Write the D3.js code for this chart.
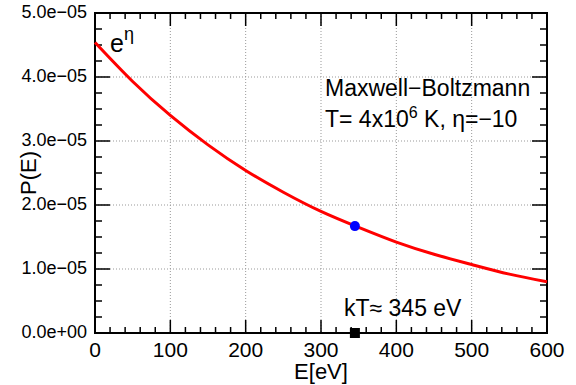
<!DOCTYPE html>
<html>
<head>
<meta charset="utf-8">
<script src="https://cdn.jsdelivr.net/npm/d3@7"></script>
<style>
  html, body { margin: 0; padding: 0; background: #fff; }
  svg { display: block; font-family: "Liberation Sans", Arial, sans-serif; }
</style>
</head>
<body>
<svg id="chart" width="576" height="385"></svg>
<script>
// values
const energies = [0, 50, 100, 150, 200, 250, 300, 350, 400, 450, 500, 550, 600];
const pValues = [4.54e-5, 3.93e-5, 3.40e-5, 2.94e-5, 2.54e-5, 2.20e-5, 1.90e-5, 1.65e-5, 1.42e-5, 1.23e-5, 1.07e-5, 0.92e-5, 0.80e-5];
const kT = 345;
const pAtKT = 1.67e-5;
const xTicks = [0, 100, 200, 300, 400, 500, 600];
const yTicks = [0, 1e-5, 2e-5, 3e-5, 4e-5, 5e-5];
const yTickLabels = ["0.0e+00", "1.0e\u221205", "2.0e\u221205", "3.0e\u221205", "4.0e\u221205", "5.0e\u221205"];

const pl = 95, pr = 547, pt = 13, pb = 333;
const svg = d3.select("#chart");

const x = d3.scaleLinear().domain([0, 600]).range([pl, pr]);
const y = d3.scaleLinear().domain([0, 5e-5]).range([pb, pt]);

// grid
const grid = svg.append("g").attr("stroke", "#999").attr("stroke-width", 1).attr("stroke-dasharray", "1,2");
grid.selectAll("line.gx").data(xTicks.slice(1, -1)).enter().append("line")
  .attr("x1", d => x(d)).attr("x2", d => x(d)).attr("y1", pt).attr("y2", pb);
grid.selectAll("line.gy").data(yTicks.slice(1, -1)).enter().append("line")
  .attr("x1", pl).attr("x2", pr).attr("y1", d => y(d)).attr("y2", d => y(d));

// ticks on all four sides, pointing inward
const xMinor = d3.range(0, 601, 20);
const yMinor = d3.range(0, 21).map(i => i * 0.25e-5);
const ticks = svg.append("g").attr("stroke", "#000").attr("stroke-width", 1.5);
xMinor.forEach(v => {
  const len = (v % 100 === 0) ? 13 : 6;
  ticks.append("line").attr("x1", x(v)).attr("x2", x(v)).attr("y1", pb).attr("y2", pb - len);
  ticks.append("line").attr("x1", x(v)).attr("x2", x(v)).attr("y1", pt).attr("y2", pt + len);
});
yMinor.forEach((v, i) => {
  const len = (i % 4 === 0) ? 15 : 7;
  ticks.append("line").attr("x1", pl).attr("x2", pl + len).attr("y1", y(v)).attr("y2", y(v));
  ticks.append("line").attr("x1", pr).attr("x2", pr - len).attr("y1", y(v)).attr("y2", y(v));
});

// frame
svg.append("rect").attr("x", pl).attr("y", pt).attr("width", pr - pl).attr("height", pb - pt)
  .attr("fill", "none").attr("stroke", "#000").attr("stroke-width", 2);

// tick labels
svg.append("g").selectAll("text").data(xTicks).enter().append("text")
  .attr("x", d => x(d)).attr("y", 357).attr("text-anchor", "middle")
  .attr("font-size", 21).text(d => d);
svg.append("g").selectAll("text").data(yTicks).enter().append("text")
  .attr("x", 87).attr("y", d => y(d) + 5).attr("text-anchor", "end")
  .attr("font-size", 18).text((d, i) => yTickLabels[i]);

// axis titles
svg.append("text").attr("x", (pl + pr) / 2).attr("y", 379).attr("text-anchor", "middle")
  .attr("font-size", 22).text("E[eV]");
svg.append("text").attr("transform", `translate(36,${(pt + pb) / 2}) rotate(-90)`)
  .attr("text-anchor", "middle").attr("font-size", 22).text("P(E)");

// curve
const line = d3.line().x((d, i) => x(energies[i])).y(d => y(d)).curve(d3.curveNatural);
svg.append("path").datum(pValues).attr("d", line)
  .attr("fill", "none").attr("stroke", "#ff0000").attr("stroke-width", 3);

// marker at kT
svg.append("circle").attr("cx", x(kT)).attr("cy", y(pAtKT)).attr("r", 5).attr("fill", "#0000ff");
svg.append("rect").attr("x", x(kT) - 5).attr("y", y(0) - 5).attr("width", 10).attr("height", 10).attr("fill", "#000");

// annotations
const eEta = svg.append("text").attr("x", 110).attr("y", 52).attr("font-size", 25);
eEta.append("tspan").text("e");
eEta.append("tspan").attr("dy", -12).attr("font-size", 18).text("\u03b7");

svg.append("text").attr("x", 325).attr("y", 96).attr("font-size", 23).text("Maxwell\u2212Boltzmann");
const tLine = svg.append("text").attr("x", 325).attr("y", 127).attr("font-size", 23);
tLine.append("tspan").text("T= 4x10");
tLine.append("tspan").attr("dy", -9).attr("font-size", 16).text("6");
tLine.append("tspan").attr("dy", 9).text(" K, \u03b7=\u221210");

svg.append("text").attr("x", 344).attr("y", 316).attr("font-size", 23).text("kT\u2248 345 eV");
</script>
</body>
</html>
